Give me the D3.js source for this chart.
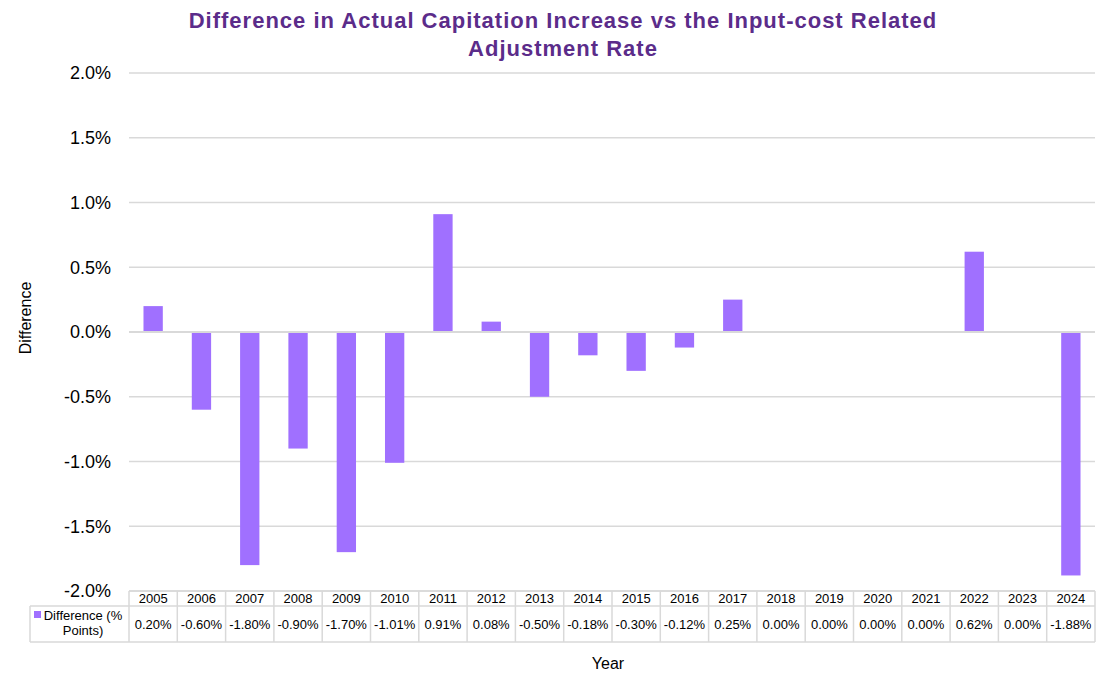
<!DOCTYPE html>
<html><head><meta charset="utf-8">
<script src="https://cdn.jsdelivr.net/npm/d3@7"></script>
<style>body{margin:0;background:#fff}svg{display:block}text{font-family:"Liberation Sans",Arial,sans-serif}</style>
</head><body><svg id="c" width="1099" height="673"></svg>
<script>
const years = ["2005","2006","2007","2008","2009","2010","2011","2012","2013","2014","2015","2016","2017","2018","2019","2020","2021","2022","2023","2024"];
const values = [0.20,-0.60,-1.80,-0.90,-1.70,-1.01,0.91,0.08,-0.50,-0.18,-0.30,-0.12,0.25,0.00,0.00,0.00,0.00,0.62,0.00,-1.88];
const yTicks = [2.0,1.5,1.0,0.5,0.0,-0.5,-1.0,-1.5,-2.0];
const seriesName = ["Difference (%", "Points)"];

const svg = d3.select("#c");
const L = 129, R = 1095, T = 73, B = 591;
const x = d3.scaleBand().domain(years).range([L, R]).paddingInner(0.6).paddingOuter(0.3);
const xb = d3.scaleBand().domain(years).range([L, R]);
const y = d3.scaleLinear().domain([-2, 2]).range([B, T]);
const barColor = "#A070FF";
const grid = "#d9d9d9";

// title
const title = svg.append("text").attr("x", 563).attr("text-anchor", "middle")
  .attr("font-weight", "bold").attr("font-size", 22).attr("letter-spacing", 1).attr("fill", "#5B2C8A");
title.append("tspan").attr("x", 563).attr("y", 28).text("Difference in Actual Capitation Increase vs the Input-cost Related");
title.append("tspan").attr("x", 563).attr("y", 56).text("Adjustment Rate");

// gridlines
svg.append("g").selectAll("line").data(yTicks.filter(d => d !== 0)).join("line")
  .attr("x1", L).attr("x2", R).attr("y1", d => y(d)).attr("y2", d => y(d))
  .attr("stroke", grid).attr("stroke-width", 1.3);

// y axis labels
const yAxis = d3.axisLeft(y).tickValues(yTicks).tickFormat(d => d3.format(".1f")(d).replace("−","-") + "%").tickSize(0).tickPadding(18);
const ga = svg.append("g").attr("transform", `translate(${L},0)`).call(yAxis);
ga.select(".domain").remove();
ga.selectAll("text").attr("font-size", 18).attr("fill", "#000").attr("font-family", "Liberation Sans, Arial, sans-serif");

// bars
svg.append("g").selectAll("rect").data(values.map((v, i) => ({y: years[i], v}))).join("rect")
  .attr("x", d => x(d.y)).attr("width", x.bandwidth())
  .attr("y", d => y(Math.max(0, d.v))).attr("height", d => Math.abs(y(d.v) - y(0)))
  .attr("fill", barColor);

// zero line
svg.append("line").attr("x1", L).attr("x2", R).attr("y1", y(0)).attr("y2", y(0))
  .attr("stroke", grid).attr("stroke-width", 2);

// table
const hTop = B, hBot = 606, dBot = 642, legL = 30;
const tg = svg.append("g").attr("stroke", grid).attr("stroke-width", 1.5).attr("fill", "none");
tg.append("line").attr("x1", L).attr("x2", R).attr("y1", hTop).attr("y2", hTop);
tg.append("line").attr("x1", legL).attr("x2", R).attr("y1", hBot).attr("y2", hBot);
tg.append("line").attr("x1", legL).attr("x2", R).attr("y1", dBot).attr("y2", dBot);
tg.append("line").attr("x1", legL).attr("x2", legL).attr("y1", hBot).attr("y2", dBot);
tg.selectAll("line.v").data(years.map(d => xb(d)).concat([R])).join("line").attr("class", "v")
  .attr("x1", d => d).attr("x2", d => d).attr("y1", hTop).attr("y2", dBot);

svg.append("g").selectAll("text").data(years).join("text")
  .attr("x", d => xb(d) + xb.bandwidth() / 2).attr("y", 603).attr("text-anchor", "middle")
  .attr("font-size", 13).attr("fill", "#000").text(d => d);
svg.append("g").selectAll("text").data(values.map((v, i) => ({y: years[i], v}))).join("text")
  .attr("x", d => xb(d.y) + xb.bandwidth() / 2).attr("y", 629).attr("text-anchor", "middle")
  .attr("font-size", 13).attr("fill", "#000").text(d => d3.format(".2f")(d.v).replace("−","-") + "%");

// legend in table
svg.append("rect").attr("x", 34).attr("y", 611).attr("width", 7).attr("height", 7).attr("fill", barColor);
const lt = svg.append("text").attr("font-size", 13).attr("fill", "#000").attr("text-anchor", "middle");
lt.append("tspan").attr("x", 83).attr("y", 620).text(seriesName[0]);
lt.append("tspan").attr("x", 83).attr("y", 635).text(seriesName[1]);

// axis titles
svg.append("text").attr("transform", "translate(31,318) rotate(-90)").attr("text-anchor", "middle")
  .attr("font-size", 16).attr("fill", "#000").text("Difference");
svg.append("text").attr("x", 608).attr("y", 669).attr("text-anchor", "middle")
  .attr("font-size", 16).attr("fill", "#000").text("Year");
</script></body></html>
